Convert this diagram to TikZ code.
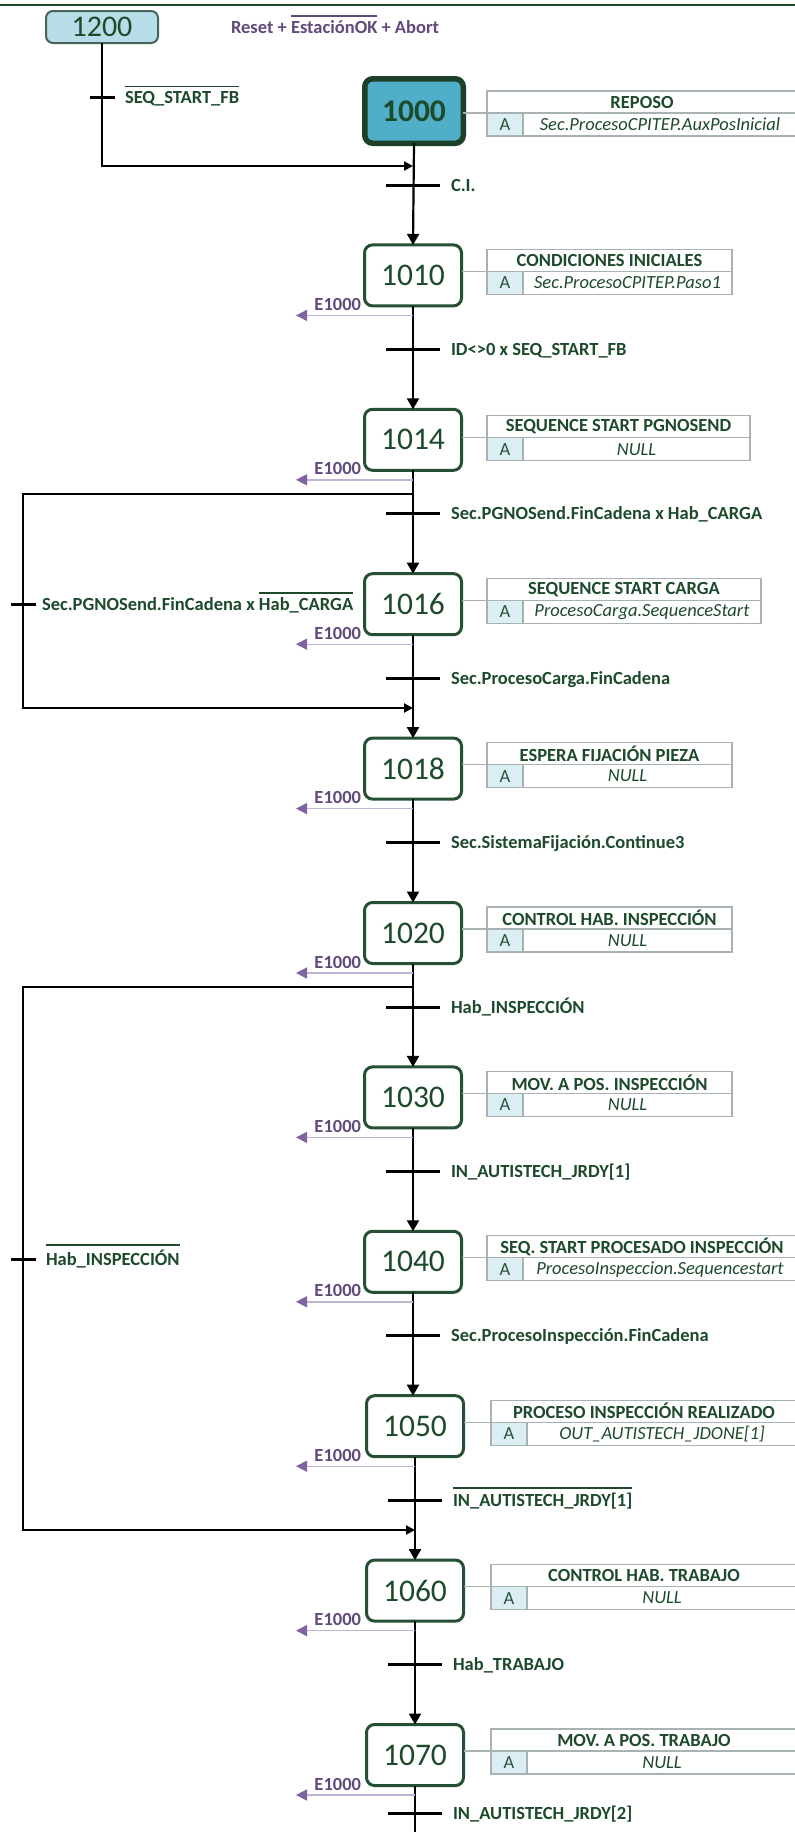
\documentclass[tikz,border=0pt]{standalone}
\usepackage{fontspec}
\setmainfont{Carlito}
\usetikzlibrary{arrows.meta,calc}

\definecolor{sfcgreen}{RGB}{30,74,44}
\definecolor{boxgreen}{RGB}{38,80,52}
\definecolor{initborder}{RGB}{28,64,40}
\definecolor{initfill}{RGB}{80,174,200}
\definecolor{paleblue}{RGB}{183,222,232}
\definecolor{parkborder}{RGB}{70,100,90}
\definecolor{cellblue}{RGB}{218,238,243}
\definecolor{gridgray}{RGB}{168,178,176}
\definecolor{errpurple}{RGB}{128,100,162}
\definecolor{errlilac}{RGB}{192,180,214}
\definecolor{errtext}{RGB}{96,74,124}

% negated signal: bar drawn over the text
\newcommand\ovl[1]{\vbox{\hrule height1.8pt\kern3.5pt\hbox{#1}}}

% action table of a step: #1 name, #2 left x, #3 top y, #4 width, #5 title, #6 action
\newcommand\acttable[6]{%
  \node[tabhead, minimum width=#4] (#1h) at (#2,#3) {#5};
  \node[tabcell] (#1a) at (#1h.south west) {A};
  \node[tabact, minimum width=#4-36] (#1x) at (#1a.north east) {#6};
}

\begin{document}
\begin{tikzpicture}[x=1pt,y=-1pt,
  every node/.style={inner sep=0pt, outer sep=0pt},
  stepbox/.style={draw=boxgreen, line width=3pt, rounded corners=8pt, fill=white,
    minimum width=97pt, minimum height=61pt, text=sfcgreen,
    font=\fontsize{31.5}{31.5}\selectfont},
  initstep/.style={stepbox, line width=5.5pt, draw=initborder, fill=initfill,
    minimum width=98.5pt, minimum height=64.5pt,
    font=\fontsize{31.5}{31.5}\selectfont\bfseries},
  parkstep/.style={stepbox, line width=2pt, draw=parkborder, fill=paleblue,
    rounded corners=7pt, minimum width=112pt, minimum height=32pt,
    font=\fontsize{30}{30}\selectfont},
  flow/.style={line width=2.2pt, draw=black},
  flowarrow/.style={flow, -{Triangle[width=12pt,length=11pt]}},
  mergearrow/.style={flow, -{Triangle[width=9pt,length=9pt]}},
  tickmark/.style={line width=3pt, draw=black},
  cond/.style={font=\fontsize{18.5}{20}\selectfont\bfseries, text=sfcgreen, anchor=base west},
  errflow/.style={line width=1.4pt, draw=errlilac,
    -{Triangle[width=11pt,length=11pt,color=errpurple]}},
  errlabel/.style={font=\fontsize{18.5}{20}\selectfont\bfseries, text=errtext, anchor=base east},
  tabhead/.style={draw=gridgray, line width=1.2pt, anchor=north west, minimum height=22pt,
    font=\fontsize{18.5}{20}\selectfont\bfseries, text=sfcgreen},
  tabcell/.style={draw=gridgray, line width=1.2pt, fill=cellblue, anchor=north west,
    minimum width=36pt, minimum height=23pt,
    font=\fontsize{18.5}{20}\selectfont, text=sfcgreen!85!gray},
  tabact/.style={draw=gridgray, line width=1.2pt, anchor=north west, minimum height=23pt,
    font=\fontsize{18.5}{20}\selectfont\itshape, text=sfcgreen},
  tie/.style={draw=gridgray, line width=1.2pt},
]
\useasboundingbox (0,0) rectangle (795,1832);
\fill[white] (0,0) rectangle (795,1832);

% header rule
\draw[line width=2pt, draw=sfcgreen] (0,5) -- (795,5);

% ---------- parking step and its return ----------
\node[parkstep] (s1200) at (102,27) {1200};
\node[anchor=base west, font=\fontsize{18.5}{20}\selectfont\bfseries, text=errtext]
  (abortcond) at (231,33) {Reset + \ovl{EstaciónOK} + Abort};
\coordinate (j1200) at (413,166);
\draw[mergearrow] (s1200.south) |- (j1200);
\coordinate (t1200) at (102,97);
\draw[tickmark] ($(t1200)+(-12.5,0)$) -- ($(t1200)+(12.5,0)$);
\node[cond] (c1200) at (125,103) {\ovl{SEQ\_START\_FB}};

% ---------- steps ----------
\node[initstep] (s1000) at (414,111) {1000};
\node[stepbox] (s1010) at (413,275.4) {1010};
\node[stepbox] (s1014) at (413,439.8) {1014};
\node[stepbox] (s1016) at (413,604.2) {1016};
\node[stepbox] (s1018) at (413,768.6) {1018};
\node[stepbox] (s1020) at (413,933) {1020};
\node[stepbox] (s1030) at (413,1097.4) {1030};
\node[stepbox] (s1040) at (413,1261.8) {1040};
\node[stepbox] (s1050) at (415,1426.2) {1050};
\node[stepbox] (s1060) at (415,1590.6) {1060};
\node[stepbox] (s1070) at (415,1755) {1070};

% ---------- action tables ----------
\acttable{a1000}{487}{91}{310}{REPOSO}{Sec.ProcesoCPITEP.AuxPosInicial}
\acttable{a1010}{487}{249.4}{245}{CONDICIONES INICIALES}{Sec.ProcesoCPITEP.Paso1}
\acttable{a1014}{487}{415.8}{263}{SEQUENCE START PGNOSEND}{NULL}
\acttable{a1016}{487}{578.2}{274}{SEQUENCE START CARGA}{ProcesoCarga.SequenceStart}
\acttable{a1018}{487}{742.6}{245}{ESPERA FIJACIÓN PIEZA}{NULL}
\acttable{a1020}{487}{907}{245}{CONTROL HAB. INSPECCIÓN}{NULL}
\acttable{a1030}{487}{1071.4}{245}{MOV. A POS. INSPECCIÓN}{NULL}
\acttable{a1040}{487}{1235.8}{310}{SEQ. START PROCESADO INSPECCIÓN}{ProcesoInspeccion.Sequencestart}
\acttable{a1050}{491}{1400.2}{306}{PROCESO INSPECCIÓN REALIZADO}{OUT\_AUTISTECH\_JDONE[1]}
\acttable{a1060}{491}{1564.6}{306}{CONTROL HAB. TRABAJO}{NULL}
\acttable{a1070}{491}{1729}{306}{MOV. A POS. TRABAJO}{NULL}

\foreach \s in {1000,1010,1014,1016,1018,1020,1030,1040,1050,1060,1070}
  \draw[tie] (s\s.east |- a\s a.north west) -- (a\s a.north west);

% ---------- main sequence ----------
\draw[flowarrow] (s1000.south) -- (s1010.north);
\draw[flowarrow] (s1010.south) -- (s1014.north);
\draw[flowarrow] (s1014.south) -- (s1016.north);
\draw[flowarrow] (s1016.south) -- (s1018.north);
\draw[flowarrow] (s1018.south) -- (s1020.north);
\draw[flowarrow] (s1020.south) -- (s1030.north);
\draw[flowarrow] (s1030.south) -- (s1040.north);
\draw[flowarrow] (s1040.south) -- (s1040.south |- s1050.north);
\draw[flowarrow] (s1050.south) -- (s1060.north);
\draw[flowarrow] (s1060.south) -- (s1070.north);
\coordinate (seqend) at (415,1832);
\draw[flow] (s1070.south) -- (seqend);

% ---------- transitions ----------
\foreach \n/\x/\y/\txt in {
  0/413/185/{C.I.},
  1/413/349.4/{ID<>0 x SEQ\_START\_FB},
  2/413/513.8/{Sec.PGNOSend.FinCadena x Hab\_CARGA},
  3/413/678.2/{Sec.ProcesoCarga.FinCadena},
  4/413/842.6/{Sec.SistemaFijación.Continue3},
  5/413/1007/{Hab\_INSPECCIÓN},
  6/413/1171.4/{IN\_AUTISTECH\_JRDY[1]},
  7/413/1335.8/{Sec.ProcesoInspección.FinCadena},
  8/415/1500.2/{\ovl{IN\_AUTISTECH\_JRDY[1]}},
  9/415/1664.6/{Hab\_TRABAJO},
  10/415/1813/{IN\_AUTISTECH\_JRDY[2]}} {
  \coordinate (t\n) at (\x,\y);
  \draw[tickmark] ($(t\n)+(-27,0)$) -- ($(t\n)+(27,0)$);
  \node[cond] (c\n) at ($(t\n)+(38,6)$) {\txt};
}

% ---------- error exits ----------
\foreach \s/\y in {1010/315.4,1014/479.8,1016/644.2,1018/808.6,1020/973,
                   1030/1137.4,1040/1301.8,1050/1466.2,1060/1630.6,1070/1795} {
  \coordinate (e\s) at (296,\y);
  \draw[errflow] (s\s.south |- e\s) -- (e\s);
  \node[errlabel] (l\s) at (361,\y-5) {E1000};
}

% ---------- skip of the load sequence ----------
\coordinate (b1a) at (413,494);
\coordinate (b1b) at (23,494);
\coordinate (b1c) at (23,708);
\coordinate (b1d) at (413,708);
\draw[mergearrow] (b1a) -- (b1b) -- (b1c) -- (b1d);
\coordinate (tb1) at (23,604.2);
\draw[tickmark] ($(tb1)+(-12.5,0)$) -- ($(tb1)+(12.5,0)$);
\node[cond] (cb1) at (42,610) {Sec.PGNOSend.FinCadena x \ovl{Hab\_CARGA}};

% ---------- skip of the inspection ----------
\coordinate (b2a) at (413,987);
\coordinate (b2b) at (23,987);
\coordinate (b2c) at (23,1530);
\coordinate (b2d) at (415,1530);
\draw[mergearrow] (b2a) -- (b2b) -- (b2c) -- (b2d);
\coordinate (tb2) at (23,1259);
\draw[tickmark] ($(tb2)+(-12.5,0)$) -- ($(tb2)+(12.5,0)$);
\node[cond] (cb2) at (46,1265) {\ovl{Hab\_INSPECCIÓN}};
\end{tikzpicture}
\end{document}
